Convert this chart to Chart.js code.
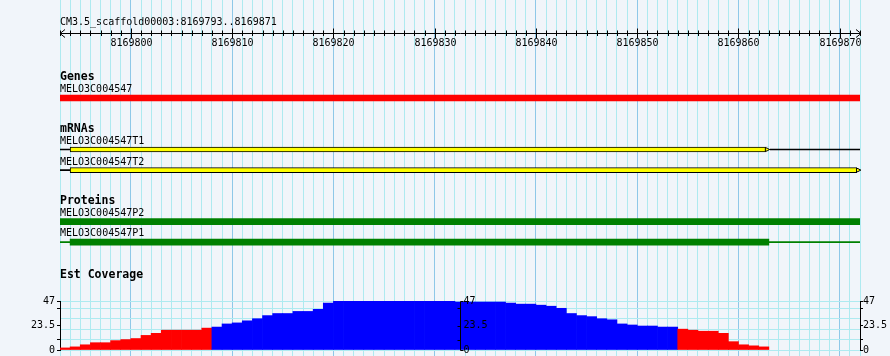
<!DOCTYPE html>
<html><head><meta charset="utf-8">
<script src="https://cdn.jsdelivr.net/npm/chart.js@4.4.1/dist/chart.umd.min.js"></script>
<style>
html,body{margin:0;padding:0;background:#f1f5fa;}
#wrap{position:relative;width:890px;height:356px;overflow:hidden;background:#f1f5fa;}
#wrap canvas{position:absolute;left:0;top:0;}
</style></head><body>
<div id="wrap">
<canvas id="bg" width="890" height="356"></canvas>
<canvas id="tracks" width="890" height="356"></canvas>
<canvas id="cov" width="890" height="356"></canvas>
</div>
<script>
// ---------- data ----------
const regionName = 'CM3.5_scaffold00003';
const viewStart = 8169793;
const viewEnd = 8169871;
const rulerLabels = [8169800, 8169810, 8169820, 8169830, 8169840, 8169850, 8169860, 8169870];

const featureNames  = ['MELO3C004547', 'MELO3C004547T1', 'MELO3C004547T2', 'MELO3C004547P2', 'MELO3C004547P1'];
const featureTracks = ['Genes', 'mRNAs', 'mRNAs', 'Proteins', 'Proteins'];
const blockStarts   = [8169793, 8169794, 8169794, 8169793, 8169794];
const blockEnds     = [8169872, 8169863, 8169872, 8169872, 8169863];
const spanStarts    = [null, 8169793, 8169793, null, 8169793];
const spanEnds      = [null, 8169872, 8169872, null, 8169872];

const coverageTitle = 'Est Coverage';
const coverageStart = 8169793;
const coverageValues = [
  2, 3, 5, 7, 7, 9, 10, 11, 14, 16,
  19, 19, 19, 19, 21, 22, 25, 26, 28, 30,
  33, 35, 35, 37, 37, 39, 45, 47, 47, 47,
  47, 47, 47, 47, 47, 47, 47, 47, 47, 46,
  46, 46, 46, 46, 45, 44, 44, 43, 42, 40,
  35, 33, 32, 30, 29, 25, 24, 23, 23, 22,
  22, 20, 19, 18, 18, 16, 8, 5, 4, 3
];
const coverageMax = 47;
const coverageTickLabels = [0, 23.5, 47];
const coverageGridValues = [0, 10, 20, 30, 40, 47];
const coveragePivot = 21.5;

// ---------- styles ----------
const FONT = '"DejaVu Sans Mono", "Liberation Mono", monospace';
const GRID_MINOR = '#aeeaf0';
const GRID_MAJOR = '#8ec8e8';
const trackStyle = {
  Genes:    {color: '#ff0000', thick: 6},
  mRNAs:    {color: '#ffff00', thick: 5, border: '#000000', line: '#000000', arrow: true},
  Proteins: {color: '#008000', thick: 6, line: '#008000'}
};
const xRange = {type: 'linear', min: viewStart, max: viewEnd + 1, offset: false};
const common = {responsive: false, animation: false, devicePixelRatio: 1,
  plugins: {legend: {display: false}, tooltip: {enabled: false}}};

// ---------- background grid + ruler ----------
const rulerPlugin = {
  id: 'ruler',
  afterDraw(chart) {
    const ctx = chart.ctx, xs = chart.scales.x;
    ctx.save();
    ctx.fillStyle = '#000';
    ctx.font = '10px ' + FONT;
    ctx.textAlign = 'left';
    ctx.textBaseline = 'alphabetic';
    ctx.fillText(regionName + ':' + viewStart + '..' + viewEnd, xs.left, 25);
    const y = 33.5;
    const x0 = xs.getPixelForValue(viewStart), x1 = xs.getPixelForValue(viewEnd + 1);
    ctx.strokeStyle = '#000';
    ctx.lineWidth = 1;
    ctx.beginPath();
    ctx.moveTo(x0, y); ctx.lineTo(x1 + 1, y);
    ctx.moveTo(x0 + 5, y - 4); ctx.lineTo(x0, y); ctx.lineTo(x0 + 5, y + 4);
    ctx.moveTo(x1 - 4, y - 4); ctx.lineTo(x1 + 1, y); ctx.lineTo(x1 - 4, y + 4);
    for (let p = viewStart; p <= viewEnd + 1; p++) {
      const x = Math.round(xs.getPixelForValue(p)) + 0.5;
      const major = p % 10 === 0;
      ctx.moveTo(x, major ? 28.5 : 30.5);
      ctx.lineTo(x, major ? 38 : 36);
    }
    ctx.stroke();
    ctx.textAlign = 'center';
    rulerLabels.forEach(v => {
      ctx.fillText(String(v), Math.round(xs.getPixelForValue(v)) + 0.5, 46);
    });
    ctx.restore();
  }
};

new Chart(document.getElementById('bg'), {
  type: 'scatter',
  data: {datasets: []},
  options: Object.assign({}, common, {
    layout: {padding: {left: 60, right: 30, top: 0, bottom: 0}},
    scales: {
      x: Object.assign({}, xRange, {
        display: true,
        border: {display: false},
        grid: {display: true, drawOnChartArea: true, drawTicks: false, lineWidth: 1,
          color: c => (c.tick && c.tick.value % 10 === 0) ? GRID_MAJOR : GRID_MINOR},
        ticks: {display: false, stepSize: 1, autoSkip: false},
        afterFit: s => { s.height = 0; }
      }),
      y: {display: false, min: 0, max: 1}
    }
  }),
  plugins: [rulerPlugin]
});

// ---------- feature tracks ----------
const rows = [];
const rowOfFeature = [];
featureTracks.forEach((t, i) => {
  if (i > 0) {
    const gap = (t === featureTracks[i - 1]) ? 1 : 4;
    for (let g = 0; g < gap; g++) rows.push('');
  }
  rowOfFeature.push(rows.length);
  rows.push(featureNames[i]);
});
function rowData(track, starts, ends) {
  return rows.map((r, ri) => {
    const i = rowOfFeature.indexOf(ri);
    if (i < 0 || featureTracks[i] !== track || starts[i] == null) return null;
    return [starts[i], ends[i]];
  });
}
const trackLabelPlugin = {
  id: 'trackLabels',
  afterDatasetsDraw(chart) {
    const ctx = chart.ctx, ys = chart.scales.y, xs = chart.scales.x;
    ctx.save();
    // strand arrowheads at the 3' end of mRNA blocks
    featureNames.forEach((name, i) => {
      const st = trackStyle[featureTracks[i]];
      if (!st.arrow) return;
      const yc = ys.getPixelForValue(rowOfFeature[i]);
      const xe = xs.getPixelForValue(blockEnds[i]);
      const top = yc - st.thick / 2, bot = yc + st.thick / 2;
      ctx.clearRect(xe - 3, top - 0.5, 4, st.thick + 1);
      ctx.beginPath();
      ctx.moveTo(xe, yc); ctx.lineTo(xe + 1, yc);
      ctx.strokeStyle = st.line; ctx.lineWidth = 1; ctx.stroke();
      ctx.beginPath();
      ctx.moveTo(xe - 3.5, top + 0.5);
      ctx.lineTo(xe - 1, top + 1.5);
      ctx.lineTo(xe + 0.5, yc);
      ctx.lineTo(xe - 1, bot - 1.5);
      ctx.lineTo(xe - 3.5, bot - 0.5);
      ctx.closePath();
      ctx.fillStyle = st.color; ctx.fill();
      ctx.strokeStyle = st.border; ctx.stroke();
    });
    ctx.fillStyle = '#000';
    ctx.textAlign = 'left';
    ctx.textBaseline = 'alphabetic';
    featureNames.forEach((name, i) => {
      const yc = ys.getPixelForValue(rowOfFeature[i]);
      const th = trackStyle[featureTracks[i]].thick;
      ctx.font = '10px ' + FONT;
      ctx.fillText(name, xs.left, Math.round(yc - th / 2 - 3));
      if (i === 0 || featureTracks[i] !== featureTracks[i - 1]) {
        ctx.font = 'bold 11.5px ' + FONT;
        ctx.fillText(featureTracks[i], xs.left, Math.round(yc - 18));
      }
    });
    ctx.restore();
  }
};
const bar = (extra) => Object.assign({grouped: false, borderWidth: 0}, extra);
new Chart(document.getElementById('tracks'), {
  type: 'bar',
  data: {
    labels: rows,
    datasets: [
      bar({data: rowData('Genes', blockStarts, blockEnds), backgroundColor: trackStyle.Genes.color, barThickness: trackStyle.Genes.thick}),
      bar({data: rowData('mRNAs', blockStarts, blockEnds), backgroundColor: trackStyle.mRNAs.color, borderColor: trackStyle.mRNAs.border, borderWidth: 1, borderSkipped: false, barThickness: trackStyle.mRNAs.thick}),
      bar({data: rowData('Proteins', blockStarts, blockEnds), backgroundColor: trackStyle.Proteins.color, barThickness: trackStyle.Proteins.thick}),
      bar({data: rowData('mRNAs', spanStarts, spanEnds), backgroundColor: trackStyle.mRNAs.line, barThickness: 1}),
      bar({data: rowData('Proteins', spanStarts, spanEnds), backgroundColor: trackStyle.Proteins.line, barThickness: 1})
    ]
  },
  options: Object.assign({}, common, {
    indexAxis: 'y',
    layout: {padding: {left: 60, right: 30, top: 92.85, bottom: 108.65}},
    scales: {
      x: Object.assign({}, xRange, {display: false}),
      y: {type: 'category', display: false, offset: true}
    }
  }),
  plugins: [trackLabelPlugin]
});

// ---------- coverage ----------
const axisTicks = [...new Set(coverageGridValues.concat(coverageTickLabels))].sort((a, b) => a - b);
function covAxis(position, onArea, boxWidth) {
  return {
    type: 'linear', position: position, min: 0, max: coverageMax,
    afterBuildTicks: s => { s.ticks = axisTicks.map(v => ({value: v})); },
    afterFit: s => { s.width = boxWidth; s.paddingTop = 0; s.paddingBottom = 0; },
    ticks: {autoSkip: false, color: '#000', padding: position === 'left' ? 2 : 0,
      font: {family: FONT, size: 10},
      callback: v => coverageTickLabels.includes(v) ? String(v) : ''},
    grid: {drawOnChartArea: onArea, tickLength: 3, lineWidth: 1,
      color: c => (c.tick && coverageGridValues.includes(c.tick.value)) ? GRID_MINOR : 'rgba(0,0,0,0)',
      tickColor: c => (c.tick && (c.tick.value === 20 || c.tick.value === 30)) ? 'rgba(0,0,0,0)' : '#000'},
    border: {display: true, color: '#000', width: 1}
  };
}
const midAxisPlugin = {
  id: 'midAxis',
  afterDraw(chart) {
    const ctx = chart.ctx, xs = chart.scales.x, ys = chart.scales.y;
    ctx.save();
    ctx.fillStyle = '#000';
    ctx.textAlign = 'left';
    ctx.textBaseline = 'alphabetic';
    ctx.font = 'bold 11.5px ' + FONT;
    ctx.fillText(coverageTitle, xs.left, 278);
    const x = Math.round(xs.getPixelForValue((viewStart + viewEnd + 1) / 2)) + 0.5;
    const yTop = Math.round(ys.getPixelForValue(coverageMax)) + 0.5;
    const yBot = Math.round(ys.getPixelForValue(0)) + 0.5;
    ctx.strokeStyle = '#000';
    ctx.lineWidth = 1;
    ctx.beginPath();
    ctx.moveTo(x, yTop); ctx.lineTo(x, yBot);
    ctx.moveTo(x, yTop); ctx.lineTo(x + 3, yTop);
    ctx.moveTo(x, yBot); ctx.lineTo(x + 3, yBot);
    [10, 23.5, 40].forEach(v => {
      const yy = Math.round(ys.getPixelForValue(v)) + 0.5;
      ctx.moveTo(x - 3, yy); ctx.lineTo(x, yy);
    });
    ctx.stroke();
    ctx.font = '10px ' + FONT;
    ctx.textBaseline = 'middle';
    coverageTickLabels.forEach(v => {
      ctx.fillText(String(v), x + 3, ys.getPixelForValue(v));
    });
    ctx.restore();
  }
};
new Chart(document.getElementById('cov'), {
  type: 'bar',
  data: {
    datasets: [{
      data: coverageValues.map((v, i) => ({x: coverageStart + i + 0.5, y: v})),
      backgroundColor: c => (c.raw && c.raw.y > coveragePivot) ? '#0000ff' : '#ff0000',
      barPercentage: 1, categoryPercentage: 1, borderWidth: 0
    }]
  },
  options: Object.assign({}, common, {
    layout: {padding: {left: 0, right: 0, top: 301, bottom: 6}},
    scales: {
      x: Object.assign({}, xRange, {display: false, grid: {offset: false}}),
      y: covAxis('left', true, 60),
      y2: covAxis('right', false, 30)
    }
  }),
  plugins: [midAxisPlugin]
});
</script>
</body></html>
